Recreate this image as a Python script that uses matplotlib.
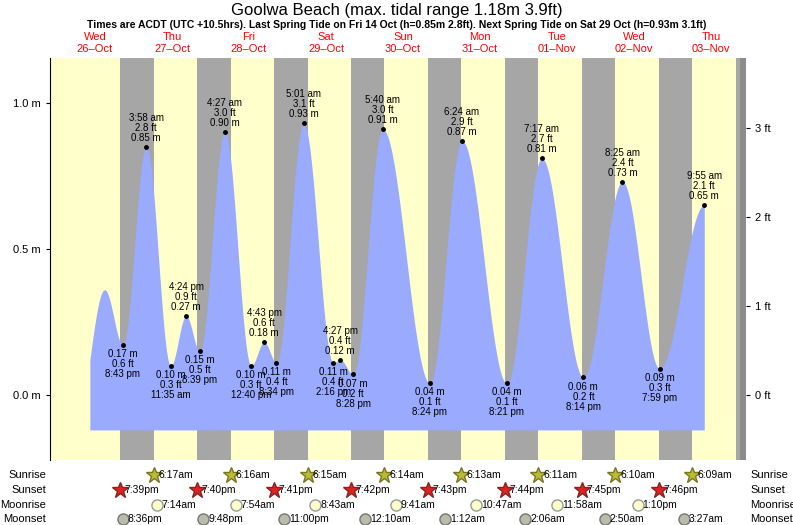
import numpy as np
import matplotlib
matplotlib.use("Agg")
import matplotlib.pyplot as plt
plt.rcParams["font.family"] = "Liberation Sans"

# ---- data (hours from midnight Wed 26-Oct, metres) ----
tide_labels = ["", "8:43 pm", "3:58 am", "11:35 am", "4:24 pm", "8:39 pm", "4:27 am", "12:40 pm",
               "4:43 pm", "8:34 pm", "5:01 am", "2:16 pm", "4:27 pm", "8:28 pm", "5:40 am",
               "8:24 pm", "6:24 am", "8:21 pm", "7:17 am", "8:14 pm", "8:25 am", "7:59 pm", "9:55 am"]
tide_hours = [15.0, 20.72, 27.97, 35.58, 40.40, 44.65, 52.45, 60.67, 64.72, 68.57, 77.02, 86.27,
              88.45, 92.47, 101.67, 116.40, 126.40, 140.35, 151.28, 164.23, 176.42, 187.98, 201.92]
tide_m = [0.36, 0.17, 0.85, 0.10, 0.27, 0.15, 0.90, 0.10, 0.18, 0.11, 0.93, 0.11, 0.12, 0.07,
          0.91, 0.04, 0.87, 0.04, 0.81, 0.06, 0.73, 0.09, 0.65]
tide_ft = [1.2, 0.6, 2.8, 0.3, 0.9, 0.5, 3.0, 0.3, 0.6, 0.4, 3.1, 0.4, 0.4, 0.2, 3.0, 0.1, 2.9,
           0.1, 2.7, 0.2, 2.4, 0.3, 2.1]
start_hour, start_m = 10.4, 0.12

day_names = ["Wed", "Thu", "Fri", "Sat", "Sun", "Mon", "Tue", "Wed", "Thu"]
day_dates = ["26\u2013Oct", "27\u2013Oct", "28\u2013Oct", "29\u2013Oct", "30\u2013Oct", "31\u2013Oct",
             "01\u2013Nov", "02\u2013Nov", "03\u2013Nov"]
sunrise = ["6:17am", "6:16am", "6:15am", "6:14am", "6:13am", "6:11am", "6:10am", "6:09am"]
sunrise_h = [30.28, 54.27, 78.25, 102.23, 126.22, 150.18, 174.17, 198.15]
sunset = ["7:39pm", "7:40pm", "7:41pm", "7:42pm", "7:43pm", "7:44pm", "7:45pm", "7:46pm"]
sunset_h = [19.65, 43.67, 67.68, 91.70, 115.72, 139.73, 163.75, 187.77]
sunset_last_h = 211.78
moonrise = ["7:14am", "7:54am", "8:43am", "9:41am", "10:47am", "11:58am", "1:10pm"]
moonrise_h = [31.23, 55.90, 80.72, 105.68, 130.78, 155.97, 181.17]
moonset = ["8:36pm", "9:48pm", "11:00pm", "12:10am", "1:12am", "2:06am", "2:50am", "3:27am"]
moonset_h = [20.60, 45.80, 71.00, 96.17, 121.20, 146.10, 170.83, 195.45]

W, H = 793, 525
fig = plt.figure(figsize=(W/100, H/100), dpi=100)
L, R, T, B = 50, 746, 58, 460
ax = fig.add_axes([L/W, 1-B/H, (R-L)/W, (B-T)/H])
x0 = (50-56.5)/3.208
x1 = (746-56.5)/3.208
ax.set_xlim(x0, x1)
ax.set_ylim(-0.223, 1.154)
ax.set_facecolor("#FFFFCC")
for s, r in zip(sunset_h, sunrise_h):
    ax.axvspan(s, r, color="#A6A6A6", lw=0)
ax.axvspan(sunset_last_h, x1, color="#A6A6A6", lw=0)
ax.axvspan(x1-6/3.208, x1, color="#8C8C8C", lw=0)

# tide curve: cosine between extremes
hs = [start_hour] + tide_hours
ms = [start_m] + tide_m
xx, yy = [], []
for i in range(len(hs)-1):
    t = np.linspace(0, 1, 40)
    xx.extend(hs[i] + (hs[i+1]-hs[i])*t)
    if i == 0:
        yy.extend(ms[0] + (ms[1]-ms[0])*np.sin(t*np.pi/2))
    else:
        yy.extend(ms[i] + (ms[i+1]-ms[i])*(1-np.cos(np.pi*t))/2)
ax.fill_between(xx, -0.12, yy, color="#99AAFF", lw=0)

for i in range(1, len(tide_hours)):
    h, m, f, lab = tide_hours[i], tide_m[i], tide_ft[i], tide_labels[i]
    ax.plot(h, m, "o", color="black", ms=2.5)
    high = m > tide_m[i-1]
    if high:
        ax.annotate(f"{lab}\n{f} ft\n{m:.2f} m", (h, m), xytext=(0, 3), textcoords="offset points",
                    ha="center", va="bottom", fontsize=7, linespacing=1.0)
    else:
        ax.annotate(f"{m:.2f} m\n{f} ft\n{lab}", (h, m), xytext=(0, -3), textcoords="offset points",
                    ha="center", va="top", fontsize=7, linespacing=1.0)

ax.set_yticks([0.0, 0.5, 1.0])
ax.set_yticklabels(["0.0 m", "0.5 m", "1.0 m"], fontsize=8)
ax.set_xticks([])
ax2 = ax.twinx()
ax2.set_ylim(-0.223/0.3048, 1.154/0.3048)
ax2.set_yticks([0, 1, 2, 3])
ax2.set_yticklabels(["0 ft", "1 ft", "2 ft", "3 ft"], fontsize=8)
for a in (ax, ax2):
    for sp in a.spines.values():
        sp.set_visible(False)
ax.spines["left"].set_visible(True)
ax.tick_params(axis="y", length=3)
ax2.tick_params(axis="y", length=3)

def fx(h):
    return (56.5 + h*3.208)/W

fig.text(0.5, 1-11/H, "Goolwa Beach (max. tidal range 1.18m 3.9ft)", ha="center", va="center", fontsize=12)
fig.text(0.5, 1-25/H, "Times are ACDT (UTC +10.5hrs). Last Spring Tide on Fri 14 Oct (h=0.85m 2.8ft). Next Spring Tide on Sat 29 Oct (h=0.93m 3.1ft)",
         ha="center", va="center", fontsize=7.5, fontweight="bold")
for i, (dn, dd) in enumerate(zip(day_names, day_dates)):
    fig.text(fx(12+24*i), 1-37/H, dn, ha="center", va="center", fontsize=8, color="red")
    fig.text(fx(12+24*i), 1-49/H, dd, ha="center", va="center", fontsize=8, color="red")

rows = [("Sunrise", 475), ("Sunset", 490), ("Moonrise", 505), ("Moonset", 519)]
for name, y in rows:
    fig.text(46/W, 1-y/H, name, ha="right", va="center", fontsize=8)
    fig.text(750/W, 1-y/H, name, ha="left", va="center", fontsize=8)

def row(hours, labels, y, marker, fc, ec, size):
    for h, lab in zip(hours, labels):
        fig.lines.append(matplotlib.lines.Line2D([fx(h)], [1-y/H], marker=marker, ms=size, mfc=fc, mec=ec,
                                                 transform=fig.transFigure))
        fig.text(fx(h)+5/W, 1-y/H, lab, ha="left", va="center", fontsize=7.5)

row(sunrise_h, sunrise, 475, "*", "#BBBB33", "#777722", 12)
row(sunset_h, sunset, 490, "*", "#DD2222", "#882222", 12)
row(moonrise_h, moonrise, 505, "o", "#FFFFCC", "#999999", 8)
row(moonset_h, moonset, 519, "o", "#BBBBAA", "#777777", 8)

fig.savefig("out.png", dpi=100)
